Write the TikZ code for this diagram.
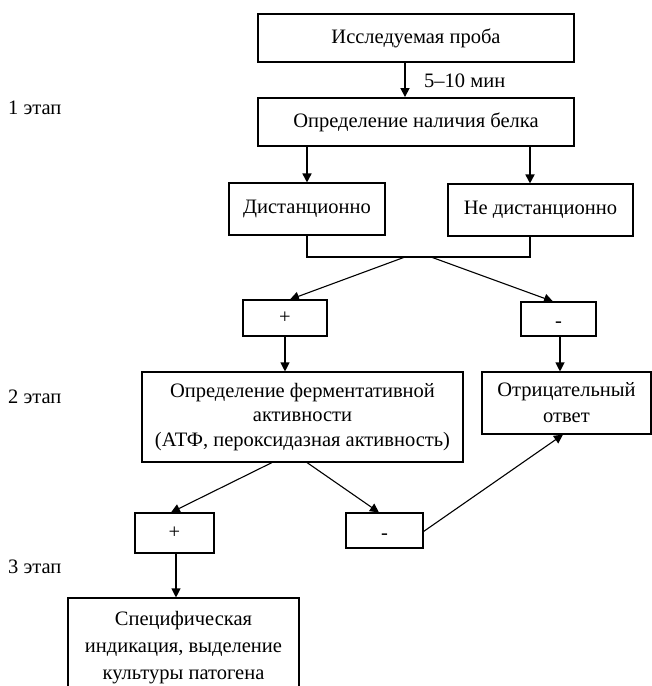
\documentclass[tikz,border=0pt]{standalone}
\usepackage{fontspec}
\setmainfont{Liberation Serif}
\usetikzlibrary{arrows.meta}
\begin{document}
\begin{tikzpicture}[x=1pt,y=-1pt,
  every node/.style={font=\fontsize{20.5}{24.5}\selectfont},
  box/.style={draw,line width=1.1pt,rectangle,inner sep=0pt,align=center},
  tbox/.style={box,line width=1.9pt},
  mbox/.style={box,text height=17pt,text depth=0pt},
  ln/.style={line width=1.1pt},
  tln/.style={line width=1.7pt},
  arr/.style={-{Triangle[width=9pt,length=9pt]}},
  stage/.style={anchor=west,inner sep=0pt}]
\useasboundingbox (0,0) rectangle (652,686);
\node[tbox,minimum width=316pt,minimum height=48pt] (b1) at (416,38) {Исследуемая проба};
\node[tbox,minimum width=316pt,minimum height=48pt] (b2) at (416,122) {Определение наличия белка};
\node[box,minimum width=156pt,minimum height=52pt] (b3) at (307,209) {Дистанционно};
\node[box,minimum width=185pt,minimum height=52pt] (b4) at (540.5,210) {Не дистанционно};
\node[box,minimum width=84pt,minimum height=36pt] (p1) at (285,318) {+};
\node[mbox,minimum width=75pt,minimum height=34pt] (m1) at (558.5,319) {-};
\node[box,minimum width=321pt,minimum height=90pt] (big) at (302.5,417) {Определение ферментативной\\активности\\(АТФ, пероксидазная активность)};
\node[box,minimum width=169pt,minimum height=62pt,font=\fontsize{20.5}{26}\selectfont] (neg) at (566.5,403) {Отрицательный\\ответ};
\node[box,minimum width=79pt,minimum height=40pt] (p2) at (174.5,533) {+};
\node[mbox,minimum width=77pt,minimum height=35pt] (m2) at (384.5,530.5) {-};
\node[box,minimum width=231pt,minimum height=100pt,font=\fontsize{20.5}{27}\selectfont] (spec) at (183.5,648) {Специфическая\\индикация, выделение\\культуры патогена};
\node[stage] (s1) at (8,108) {1 этап};
\node[stage] (s2) at (8,397) {2 этап};
\node[stage] (s3) at (8,567) {3 этап};
\node[anchor=west,inner sep=0pt] (t1) at (424,81) {5–10 мин};
% connectors
\coordinate (c1) at (405,0);
\coordinate (c2) at (530,0);
\coordinate (c3) at (560,0);
\coordinate (c4) at (176,0);
\coordinate (jy) at (0,257);
\coordinate (d1) at (405,257);
\coordinate (d2) at (431,257);
\draw[tln,arr] (b1.south -| c1) -- (b2.north -| c1);
\draw[tln,arr] (b2.south -| b3) -- (b3.north);
\draw[tln,arr] (b2.south -| c2) -- (b4.north -| c2);
\draw[ln] (b3.south) -- (b3.south |- jy) -- (c2 |- jy) -- (b4.south -| c2);
\draw[ln,arr] (d1) -- ([xshift=5pt]p1.north);
\draw[ln,arr] (d2) -- ([xshift=-5.5pt]m1.north);
\draw[ln,arr] (p1.south) -- (big.north -| p1);
\draw[ln,arr] (m1.south -| c3) -- (neg.north -| c3);
\draw[ln,arr] ([xshift=-30.5pt]big.south) -- ([xshift=-3.5pt]p2.north);
\draw[ln,arr] ([xshift=4.5pt]big.south) -- ([xshift=-5.5pt]m2.north);
\draw[ln,arr] ([yshift=-1pt]m2.east) -- ([xshift=-3.5pt]neg.south);
\draw[ln,arr] (p2.south -| c4) -- (spec.north -| c4);
\end{tikzpicture}
\end{document}
